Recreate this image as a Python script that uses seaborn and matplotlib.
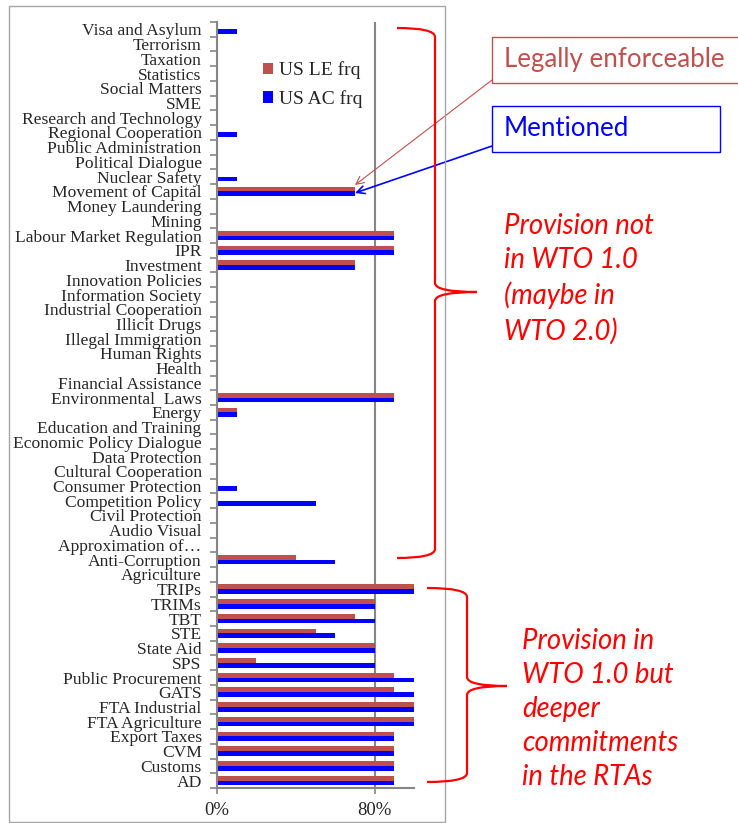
import seaborn as sns
import matplotlib.pyplot as plt
import pandas as pd
from matplotlib.path import Path
from matplotlib.patches import PathPatch, Rectangle
from matplotlib.ticker import FixedLocator, PercentFormatter

# data (top to bottom, as in the chart)
categories = [
    "Visa and Asylum", "Terrorism", "Taxation", "Statistics", "Social Matters",
    "SME", "Research and Technology", "Regional Cooperation",
    "Public Administration", "Political Dialogue", "Nuclear Safety",
    "Movement of Capital", "Money Laundering", "Mining",
    "Labour Market Regulation", "IPR", "Investment", "Innovation Policies",
    "Information Society", "Industrial Cooperation", "Illicit Drugs",
    "Illegal Immigration", "Human Rights", "Health", "Financial Assistance",
    "Environmental  Laws", "Energy", "Education and Training",
    "Economic Policy Dialogue", "Data Protection", "Cultural Cooperation",
    "Consumer Protection", "Competition Policy", "Civil Protection",
    "Audio Visual", "Approximation of\u2026", "Anti-Corruption", "Agriculture",
    "TRIPs", "TRIMs", "TBT", "STE", "State Aid", "SPS", "Public Procurement",
    "GATS", "FTA Industrial", "FTA Agriculture", "Export Taxes", "CVM",
    "Customs", "AD",
]
le_frq = [0, 0, 0, 0, 0, 0, 0, 0, 0, 0, 0, 0.7, 0, 0, 0.9, 0.9, 0.7, 0, 0, 0,
          0, 0, 0, 0, 0, 0.9, 0.1, 0, 0, 0, 0, 0, 0, 0, 0, 0, 0.4, 0,
          1.0, 0.8, 0.7, 0.5, 0.8, 0.2, 0.9, 0.9, 1.0, 1.0, 0.9, 0.9, 0.9, 0.9]
ac_frq = [0.1, 0, 0, 0, 0, 0, 0, 0.1, 0, 0, 0.1, 0.7, 0, 0, 0.9, 0.9, 0.7, 0, 0,
          0, 0, 0, 0, 0, 0, 0.9, 0.1, 0, 0, 0, 0, 0.1, 0.5, 0, 0, 0, 0.6, 0,
          1.0, 0.8, 0.8, 0.6, 0.8, 0.8, 1.0, 1.0, 1.0, 1.0, 0.9, 0.9, 0.9, 0.9]
series = ["US LE frq", "US AC frq"]
colors = ["#C0504D", "#0000FF"]

W, H = 738, 823

sns.set_style("white")
plt.rcParams["font.family"] = ["Liberation Serif", "DejaVu Serif"]

df = pd.DataFrame({"Provision": categories, series[0]: le_frq, series[1]: ac_frq})
long_df = df.melt(id_vars="Provision", var_name="Series", value_name="Freq")

fig = plt.figure(figsize=(W / 100, H / 100), dpi=100)
ax = fig.add_axes([217 / W, 1 - 788 / H, (414 - 217) / W, (788 - 22) / H])

sns.barplot(data=long_df, y="Provision", x="Freq", hue="Series",
            hue_order=series, palette=colors, orient="h", width=0.65,
            saturation=1, linewidth=0, errorbar=None, ax=ax)

ax.set_xlim(0, 1.0)
ax.set_ylim(len(categories) - 0.5, -0.5)
ax.set_xlabel("")
ax.set_ylabel("")

# x axis: ticks at 0% and 80%, gridline at 80%
ax.xaxis.set_major_locator(FixedLocator([0, 0.8]))
ax.xaxis.set_major_formatter(PercentFormatter(1.0, decimals=0))
ax.xaxis.grid(True, color="#868686", linewidth=1.5)
ax.tick_params(axis="x", length=4, width=1.2, color="#868686",
               labelsize=13.5, pad=6, bottom=True)

# y axis: tick marks between categories, labels at centres
ax.yaxis.set_minor_locator(FixedLocator([i - 0.5 for i in range(len(categories) + 1)]))
ax.tick_params(axis="y", which="major", length=0, labelsize=12.6, pad=11)
ax.tick_params(axis="y", which="minor", length=5, width=1.2, color="#868686",
               left=True)

for side in ["top", "right"]:
    ax.spines[side].set_visible(False)
for side in ["left", "bottom"]:
    ax.spines[side].set_color("#868686")
    ax.spines[side].set_linewidth(1.5)

sns.move_legend(ax, loc="upper left", bbox_to_anchor=(245 / W, 1 - 44 / H),
                bbox_transform=fig.transFigure, frameon=False, title=None,
                fontsize=14, handlelength=0.55, handleheight=0.55,
                handletextpad=0.3, labelspacing=0.55)


def fp(x, y):
    return (x / W, 1 - y / H)


# outer chart frame
fig.add_artist(Rectangle(fp(9, 822), (445 - 9) / W, (822 - 6) / H,
                         transform=fig.transFigure, fill=False,
                         edgecolor="#A6A6A6", linewidth=1))

# callout boxes
fig.add_artist(Rectangle(fp(492, 83), (745 - 492) / W, (83 - 37) / H,
                         transform=fig.transFigure, fill=False,
                         edgecolor="#C0504D", linewidth=1))
fig.text(*fp(504, 60), "Legally enforceable", color="#C0504D", fontsize=18.6,
         family="Lato", va="center", ha="left")
fig.add_artist(Rectangle(fp(492, 152), (720 - 492) / W, (152 - 106) / H,
                         transform=fig.transFigure, fill=False,
                         edgecolor="#0000FF", linewidth=1))
fig.text(*fp(504, 129), "Mentioned", color="#0000FF", fontsize=18.6,
         family="Lato", va="center", ha="left")

# arrows from boxes to the Movement of Capital bars
ax.annotate("", xy=(355, H - 185), xycoords="figure pixels",
            xytext=(492, H - 80), textcoords="figure pixels",
            arrowprops=dict(arrowstyle="->", color="#C0504D", lw=0.8,
                            shrinkA=0, shrinkB=0, mutation_scale=14))
ax.annotate("", xy=(355, H - 193), xycoords="figure pixels",
            xytext=(492, H - 146), textcoords="figure pixels",
            arrowprops=dict(arrowstyle="->", color="#0000FF", lw=1.2,
                            shrinkA=0, shrinkB=0, mutation_scale=14))


def brace(x0, x1, xtip, ytop, ymid, ybot):
    verts = [fp(x0, ytop), fp(x1, ytop), fp(x1, ytop + 9),
             fp(x1, ymid - 9), fp(x1, ymid), fp(xtip, ymid),
             fp(x1, ymid), fp(x1, ymid + 9),
             fp(x1, ybot - 9), fp(x1, ybot), fp(x0, ybot)]
    codes = [Path.MOVETO, Path.CURVE3, Path.CURVE3,
             Path.LINETO, Path.CURVE3, Path.CURVE3,
             Path.CURVE3, Path.CURVE3,
             Path.LINETO, Path.CURVE3, Path.CURVE3]
    fig.add_artist(PathPatch(Path(verts, codes), transform=fig.transFigure,
                             fill=False, edgecolor="#FF0000", linewidth=1.6))


brace(397, 435, 477, 28, 292, 558)
brace(427, 467, 507, 588, 686, 782)

fig.text(*fp(504, 213), "Provision not\nin WTO 1.0\n(maybe in\nWTO 2.0)",
         color="#FF0000", fontsize=19.8, family="Lato", style="italic",
         va="top", ha="left", linespacing=1.38)
fig.text(*fp(522, 628), "Provision in\nWTO 1.0 but\ndeeper\ncommitments\nin the RTAs",
         color="#FF0000", fontsize=19.8, family="Lato", style="italic",
         va="top", ha="left", linespacing=1.38)

plt.savefig("out.png", dpi=100)
